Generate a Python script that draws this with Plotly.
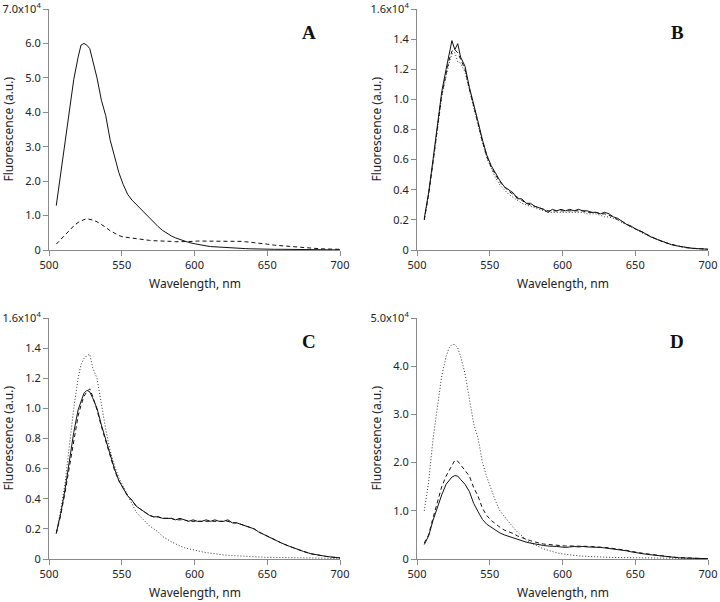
import plotly.graph_objects as go

# Wavelength grid (nm)
wl = [505, 508, 511, 514, 517, 520, 522, 524, 526, 528, 530,
      533, 536, 539, 542, 545, 548, 551, 554, 557, 560, 563, 566, 569, 572, 575,
      578, 581, 584, 587, 590, 593, 596, 599, 602, 605, 608, 611, 614, 617, 620,
      623, 626, 629, 632, 635, 638, 641, 644, 647, 650,
      655, 660, 665, 670, 675, 680, 685, 690, 695, 700]

# Fluorescence values in units of 1e4 (a.u.)
a_solid = [1.29, 2.2, 3.1, 4.1, 4.95, 5.6, 5.95, 6.0, 5.95, 5.85, 5.5,
           5.0, 4.35, 3.9, 3.2, 2.7, 2.25, 1.9, 1.62, 1.45, 1.32, 1.18, 1.05, 0.92, 0.8, 0.68,
           0.57, 0.48, 0.41, 0.35, 0.3, 0.26, 0.22, 0.19, 0.16, 0.14, 0.12, 0.1, 0.09, 0.08, 0.07,
           0.06, 0.055, 0.05, 0.045, 0.04, 0.035, 0.03, 0.03, 0.025, 0.025,
           0.02, 0.02, 0.015, 0.015, 0.01, 0.01, 0.01, 0.01, 0.005, 0.005]
a_dash = [0.17, 0.3, 0.45, 0.58, 0.7, 0.8, 0.85, 0.88, 0.91, 0.9, 0.87,
          0.82, 0.75, 0.66, 0.56, 0.48, 0.42, 0.38, 0.36, 0.35, 0.34, 0.32, 0.3, 0.28, 0.27, 0.27,
          0.26, 0.25, 0.25, 0.24, 0.24, 0.23, 0.24, 0.25, 0.26, 0.26, 0.27, 0.27, 0.27, 0.27, 0.27,
          0.27, 0.26, 0.26, 0.25, 0.24, 0.23, 0.21, 0.2, 0.18, 0.17,
          0.14, 0.12, 0.1, 0.08, 0.06, 0.05, 0.04, 0.03, 0.02, 0.02]

b_solid = [0.21, 0.38, 0.6, 0.82, 1.05, 1.2, 1.3, 1.39, 1.33, 1.37, 1.28,
           1.22, 1.08, 0.97, 0.85, 0.73, 0.63, 0.56, 0.51, 0.46, 0.42, 0.4, 0.38, 0.34, 0.34, 0.31,
           0.31, 0.29, 0.28, 0.27, 0.25, 0.27, 0.26, 0.27, 0.26, 0.27, 0.26, 0.27, 0.26, 0.26, 0.25,
           0.25, 0.24, 0.25, 0.24, 0.22, 0.21, 0.19, 0.17, 0.16, 0.14,
           0.12, 0.09, 0.07, 0.05, 0.035, 0.025, 0.015, 0.01, 0.008, 0.005]
b_dash = [0.2, 0.37, 0.58, 0.8, 1.03, 1.17, 1.26, 1.32, 1.33, 1.31, 1.27,
          1.2, 1.07, 0.96, 0.84, 0.72, 0.62, 0.55, 0.5, 0.45, 0.42, 0.39, 0.37, 0.35, 0.33, 0.31,
          0.3, 0.29, 0.28, 0.27, 0.26, 0.26, 0.26, 0.26, 0.26, 0.26, 0.26, 0.26, 0.26, 0.25, 0.25,
          0.25, 0.24, 0.24, 0.23, 0.22, 0.2, 0.19, 0.17, 0.155, 0.14,
          0.115, 0.09, 0.07, 0.05, 0.035, 0.025, 0.015, 0.01, 0.008, 0.005]
b_dot = [0.2, 0.37, 0.58, 0.8, 1.02, 1.15, 1.24, 1.3, 1.31, 1.25, 1.24,
         1.18, 1.06, 0.95, 0.83, 0.71, 0.61, 0.54, 0.48, 0.43, 0.4, 0.37, 0.35, 0.33, 0.31, 0.3,
         0.29, 0.28, 0.27, 0.26, 0.25, 0.25, 0.25, 0.25, 0.25, 0.25, 0.25, 0.25, 0.25, 0.24, 0.24,
         0.24, 0.23, 0.22, 0.22, 0.21, 0.2, 0.18, 0.17, 0.15, 0.14,
         0.11, 0.09, 0.07, 0.05, 0.035, 0.025, 0.015, 0.01, 0.008, 0.005]

c_solid = [0.17, 0.3, 0.46, 0.65, 0.84, 0.99, 1.05, 1.1, 1.12, 1.11, 1.07,
           1.0, 0.89, 0.79, 0.69, 0.6, 0.52, 0.47, 0.42, 0.39, 0.35, 0.33, 0.31, 0.29, 0.28, 0.28,
           0.27, 0.27, 0.27, 0.26, 0.27, 0.26, 0.25, 0.26, 0.25, 0.25, 0.26, 0.25, 0.26, 0.25, 0.25,
           0.26, 0.24, 0.24, 0.23, 0.22, 0.21, 0.2, 0.18, 0.165, 0.15,
           0.13, 0.105, 0.085, 0.065, 0.05, 0.035, 0.025, 0.018, 0.012, 0.008]
c_dash = [0.17, 0.29, 0.44, 0.62, 0.8, 0.95, 1.02, 1.08, 1.11, 1.13, 1.08,
          0.99, 0.88, 0.78, 0.68, 0.59, 0.52, 0.47, 0.42, 0.39, 0.35, 0.33, 0.31, 0.29, 0.28, 0.28,
          0.27, 0.27, 0.27, 0.26, 0.26, 0.26, 0.25, 0.25, 0.25, 0.25, 0.25, 0.25, 0.25, 0.25, 0.25,
          0.25, 0.24, 0.24, 0.23, 0.22, 0.21, 0.2, 0.18, 0.165, 0.15,
          0.13, 0.105, 0.085, 0.065, 0.05, 0.035, 0.025, 0.018, 0.012, 0.008]
c_dot = [0.17, 0.32, 0.5, 0.75, 1.0, 1.2, 1.29, 1.33, 1.35, 1.36, 1.27,
         1.2, 1.03, 0.86, 0.72, 0.62, 0.54, 0.48, 0.42, 0.36, 0.31, 0.28, 0.25, 0.22, 0.2, 0.18,
         0.15, 0.13, 0.115, 0.1, 0.085, 0.075, 0.068, 0.06, 0.053, 0.048, 0.043, 0.038, 0.034, 0.03, 0.027,
         0.024, 0.022, 0.02, 0.018, 0.016, 0.015, 0.014, 0.013, 0.012, 0.011,
         0.01, 0.009, 0.008, 0.007, 0.006, 0.005, 0.005, 0.004, 0.004, 0.004]

d_solid = [0.3, 0.48, 0.8, 1.08, 1.33, 1.55, 1.62, 1.7, 1.73, 1.72, 1.65,
           1.55, 1.4, 1.15, 0.98, 0.82, 0.72, 0.66, 0.6, 0.54, 0.5, 0.47, 0.44, 0.4, 0.37, 0.35,
           0.33, 0.31, 0.29, 0.28, 0.27, 0.27, 0.26, 0.25, 0.24, 0.25, 0.26, 0.25, 0.26, 0.25, 0.25,
           0.24, 0.24, 0.23, 0.22, 0.21, 0.2, 0.18, 0.17, 0.15, 0.14,
           0.11, 0.09, 0.07, 0.05, 0.035, 0.025, 0.02, 0.015, 0.01, 0.008]
d_dash = [0.33, 0.5, 0.85, 1.2, 1.5, 1.72, 1.82, 1.92, 2.05, 2.03, 1.95,
          1.85, 1.72, 1.48, 1.3, 1.05, 0.9, 0.8, 0.72, 0.66, 0.6, 0.57, 0.53, 0.48, 0.44, 0.41,
          0.38, 0.35, 0.33, 0.31, 0.3, 0.29, 0.28, 0.28, 0.27, 0.27, 0.27, 0.27, 0.26, 0.26, 0.26,
          0.25, 0.25, 0.24, 0.23, 0.22, 0.21, 0.19, 0.18, 0.16, 0.15,
          0.12, 0.1, 0.075, 0.055, 0.04, 0.03, 0.02, 0.015, 0.01, 0.008]
d_dot = [1.0, 1.6, 2.48, 3.15, 3.8, 4.2, 4.38, 4.45, 4.45, 4.38, 4.2,
         3.85, 3.3, 2.8, 2.5, 2.0, 1.7, 1.45, 1.2, 1.0, 0.88, 0.77, 0.66, 0.56, 0.47, 0.4,
         0.34, 0.29, 0.25, 0.21, 0.18, 0.155, 0.13, 0.11, 0.095, 0.085, 0.075, 0.065, 0.058, 0.052, 0.047,
         0.043, 0.04, 0.037, 0.034, 0.032, 0.03, 0.028, 0.026, 0.024, 0.022,
         0.02, 0.018, 0.016, 0.014, 0.012, 0.011, 0.01, 0.01, 0.009, 0.009]

x_ticks = [500, 550, 600, 650, 700]
ya_ticks = [0, 1, 2, 3, 4, 5, 6, 7]
ya_text = ["0", "1.0", "2.0", "3.0", "4.0", "5.0", "6.0", "7.0x10<sup>4</sup>"]
yb_ticks = [0, 0.2, 0.4, 0.6, 0.8, 1.0, 1.2, 1.4, 1.6]
yb_text = ["0", "0.2", "0.4", "0.6", "0.8", "1.0", "1.2", "1.4", "1.6x10<sup>4</sup>"]
yd_ticks = [0, 1, 2, 3, 4, 5]
yd_text = ["0", "1.0", "2.0", "3.0", "4.0", "5.0x10<sup>4</sup>"]
panel_labels = ["A", "B", "C", "D"]

W, H = 720, 602
FONT = "Noto Sans"
AX = "#8a8a8a"
TXT = "#222222"

# pixel boxes of the four plot areas: (left, right, top, bottom)
boxes = [(49, 340, 9, 250), (417, 708, 9, 250), (49, 340, 318, 559), (417, 708, 318, 559)]

fig = go.Figure()

series = [
    (1, [(a_solid, "solid"), (a_dash, "4px,3px")]),
    (2, [(b_dot, "1px,2px"), (b_dash, "4px,3px"), (b_solid, "solid")]),
    (3, [(c_dot, "1px,2px"), (c_dash, "4px,3px"), (c_solid, "solid")]),
    (4, [(d_dot, "1px,2px"), (d_dash, "4px,3px"), (d_solid, "solid")]),
]
for idx, lines in series:
    sfx = "" if idx == 1 else str(idx)
    for vals, dash in lines:
        fig.add_trace(go.Scatter(
            x=wl, y=vals, mode="lines", xaxis="x" + sfx, yaxis="y" + sfx,
            line=dict(color="#111111" if dash != "1px,2px" else "#333333", width=1, dash=dash),
            showlegend=False, hoverinfo="skip"))

yconf = [(7, ya_ticks, ya_text), (1.6, yb_ticks, yb_text), (1.6, yb_ticks, yb_text), (5, yd_ticks, yd_text)]

layout = dict(width=W, height=H, margin=dict(l=0, r=0, t=0, b=0),
              paper_bgcolor="white", plot_bgcolor="white",
              font=dict(family=FONT, size=11, color=TXT), annotations=[])
for i, (l, r, t, b) in enumerate(boxes):
    sfx = "" if i == 0 else str(i + 1)
    ymax, tv, tt = yconf[i]
    common = dict(showgrid=False, zeroline=False, showline=True, linecolor=AX, linewidth=1,
                  ticks="outside", ticklen=5, tickcolor=AX, tickwidth=1, automargin=False,
                  tickfont=dict(family=FONT, size=11, color=TXT))
    layout["xaxis" + sfx] = dict(common, domain=[l / W, r / W], range=[500, 700],
                                 tickvals=x_ticks, anchor="y" + sfx)
    layout["yaxis" + sfx] = dict(common, domain=[1 - b / H, 1 - t / H], range=[0, ymax],
                                 tickvals=tv, ticktext=tt, anchor="x" + sfx)
    # axis titles
    layout["annotations"].append(dict(text="Wavelength, nm", xref="paper", yref="paper",
                                      x=(l + r) / 2 / W, y=1 - (b + 33) / H, showarrow=False,
                                      xanchor="center", yanchor="middle",
                                      font=dict(family=FONT, size=12, color=TXT)))
    layout["annotations"].append(dict(text="Fluorescence (a.u.)", xref="paper", yref="paper",
                                      x=(l - 41) / W, y=1 - (t + b) / 2 / H, showarrow=False,
                                      textangle=-90, xanchor="center", yanchor="middle",
                                      font=dict(family=FONT, size=12, color=TXT)))
    layout["annotations"].append(dict(text="<b>%s</b>" % panel_labels[i], xref="paper", yref="paper",
                                      x=(r - 31) / W, y=1 - (t + 24) / H, showarrow=False,
                                      xanchor="center", yanchor="middle",
                                      font=dict(family="Liberation Serif", size=19, color="#111111")))

fig.update_layout(**layout)
fig.write_html("out.html", config={"displayModeBar": False},
               post_script="document.body.style.margin='0';document.body.style.overflow='hidden';")
